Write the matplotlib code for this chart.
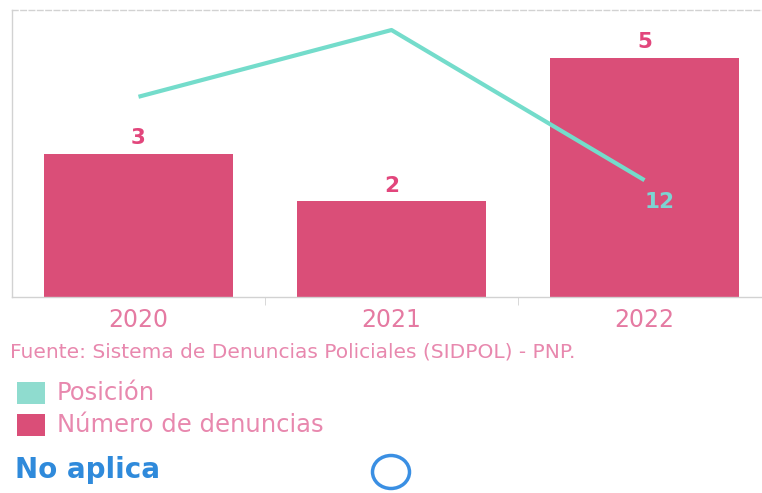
"""Denuncias por año (SIDPOL) con la posición del distrito como línea."""

from matplotlib.patches import Ellipse, Rectangle
import matplotlib.pyplot as plt


YEARS = ["2020", "2021", "2022"]
DENUNCIAS = [3, 2, 5]
POSICION = [7, 3, 12]
POSICION_LABELS = ["", "", "12"]

FUENTE = "Fuente: Sistema de Denuncias Policiales (SIDPOL) - PNP."
LEGEND_LABELS = ["Posición", "Número de denuncias"]
NO_APLICA = "No aplica"


def main() -> None:
    bar_color = "#DA4E78"
    line_color = "#74DCCB"
    label_pink = "#E2467C"
    tick_pink = "#E57AA2"
    text_pink = "#E888AE"
    blue = "#2F8ADB"
    axis_gray = "#D2D2D2"

    plt.rcParams.update({"font.family": "DejaVu Sans"})

    fig = plt.figure(figsize=(7.62, 4.93), dpi=100)
    ax = fig.add_axes([12 / 762, 196 / 493, 759 / 762, 287 / 493])

    x = list(range(len(YEARS)))
    bars = ax.bar(x, DENUNCIAS, width=0.75, color=bar_color, zorder=2)
    for rect, val in zip(bars, DENUNCIAS):
        ax.annotate(
            str(val),
            xy=(rect.get_x() + rect.get_width() / 2, rect.get_height()),
            xytext=(0, 7),
            textcoords="offset points",
            ha="center",
            va="baseline",
            fontsize=15.5,
            fontweight="bold",
            color=label_pink,
        )

    ax.set_xlim(-0.5, 2.5)
    ax.set_ylim(0, 6)
    ax.set_xticks(x)
    ax.set_xticklabels(YEARS, fontsize=17, color=tick_pink)
    ax.tick_params(axis="x", length=0, pad=8)
    ax.set_xticks([0.5, 1.5], minor=True)
    ax.tick_params(axis="x", which="minor", length=6, color=axis_gray)
    ax.set_yticks([])
    for side in ["left", "bottom", "top"]:
        ax.spines[side].set_color(axis_gray)
        ax.spines[side].set_linewidth(1.0)
    ax.spines["top"].set_linestyle((0, (4, 2)))
    ax.spines["right"].set_visible(False)

    ax2 = ax.twinx()
    ax2.plot(x, POSICION, color=line_color, linewidth=3, solid_capstyle="butt", zorder=3)
    ax2.set_ylim(19.0, 1.8)
    ax2.set_yticks([])
    for side in ["left", "bottom", "top", "right"]:
        ax2.spines[side].set_visible(False)
    for xi, yi, lab in zip(x, POSICION, POSICION_LABELS):
        if lab:
            ax2.annotate(
                lab,
                xy=(xi, yi),
                xytext=(11, -16),
                textcoords="offset points",
                ha="center",
                va="center",
                fontsize=15.5,
                fontweight="bold",
                color="#7CD4D2",
            )

    fig.text(10 / 762, 1 - 352 / 493, FUENTE, fontsize=14.5, color=text_pink, va="center")

    legend_colors = ["#8FDCCF", bar_color]
    legend_y = [393, 425]
    for lab, col, yy in zip(LEGEND_LABELS, legend_colors, legend_y):
        fig.patches.append(
            Rectangle(
                (17 / 762, 1 - (yy + 11) / 493),
                28 / 762,
                22 / 493,
                transform=fig.transFigure,
                facecolor=col,
                edgecolor="none",
            )
        )
        fig.text(57 / 762, 1 - yy / 493, lab, fontsize=17.5, color=text_pink, va="center")

    fig.text(15 / 762, 1 - 470 / 493, NO_APLICA, fontsize=20, fontweight="bold", color=blue, va="center")
    fig.patches.append(
        Ellipse(
            (391 / 762, 1 - 472 / 493),
            37 / 762,
            33 / 493,
            transform=fig.transFigure,
            facecolor="none",
            edgecolor="#3A8FE3",
            linewidth=2.5,
        )
    )

    fig.savefig("out.png", dpi=100)
    plt.close(fig)


if __name__ == "__main__":
    main()
